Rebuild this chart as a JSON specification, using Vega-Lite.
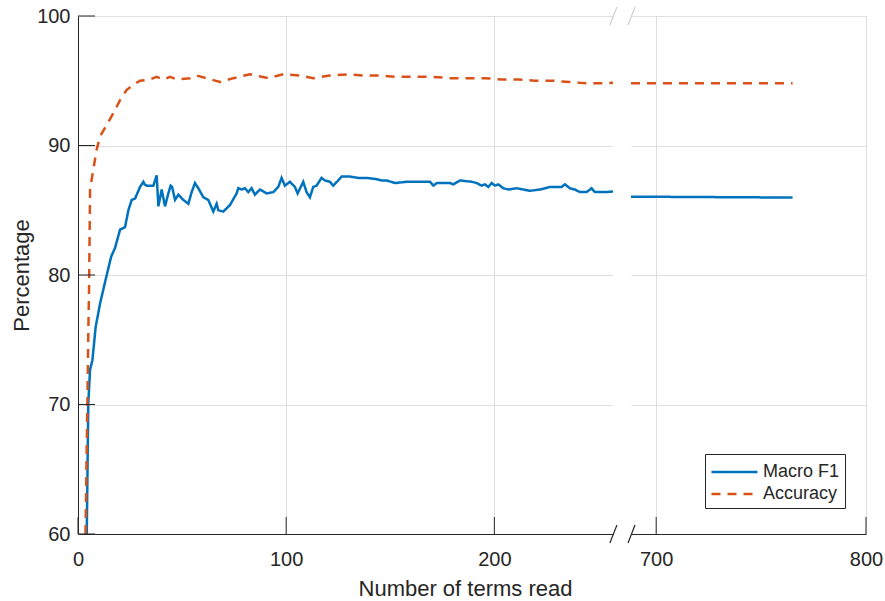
{
  "$schema": "https://vega.github.io/schema/vega-lite/v6.json",
  "padding": {"left": 10, "top": 6, "right": 5, "bottom": 5},
  "config": {
    "font": "Liberation Sans",
    "view": {"stroke": null},
    "axis": {
      "labelFontSize": 20,
      "labelColor": "#262626",
      "domainColor": "#262626",
      "tickColor": "#262626",
      "gridColor": "#dfdfdf",
      "titleFontSize": 22,
      "titleFontWeight": "normal",
      "titleColor": "#262626",
      "domainWidth": 1,
      "gridWidth": 1,
      "ticks": false,
      "labelFlush": false
    }
  },
  "datasets": {
    "early": [
      {"x": 4.2, "value": 60, "series": "Macro F1"},
      {"x": 4.95, "value": 70.1, "series": "Macro F1"},
      {"x": 5.8, "value": 72.7, "series": "Macro F1"},
      {"x": 6.9, "value": 73.4, "series": "Macro F1"},
      {"x": 8.5, "value": 76, "series": "Macro F1"},
      {"x": 10.6, "value": 77.8, "series": "Macro F1"},
      {"x": 13.8, "value": 80, "series": "Macro F1"},
      {"x": 15.9, "value": 81.4, "series": "Macro F1"},
      {"x": 17.8, "value": 82.1, "series": "Macro F1"},
      {"x": 20.2, "value": 83.5, "series": "Macro F1"},
      {"x": 22.6, "value": 83.7, "series": "Macro F1"},
      {"x": 24.2, "value": 85, "series": "Macro F1"},
      {"x": 25.8, "value": 85.8, "series": "Macro F1"},
      {"x": 27.4, "value": 85.9, "series": "Macro F1"},
      {"x": 29.8, "value": 86.8, "series": "Macro F1"},
      {"x": 31.4, "value": 87.2, "series": "Macro F1"},
      {"x": 32, "value": 87, "series": "Macro F1"},
      {"x": 33, "value": 86.9, "series": "Macro F1"},
      {"x": 36.2, "value": 86.9, "series": "Macro F1"},
      {"x": 37.8, "value": 87.7, "series": "Macro F1"},
      {"x": 38.6, "value": 85.3, "series": "Macro F1"},
      {"x": 40.2, "value": 86.6, "series": "Macro F1"},
      {"x": 41.8, "value": 85.3, "series": "Macro F1"},
      {"x": 43.4, "value": 86.3, "series": "Macro F1"},
      {"x": 44.5, "value": 86.9, "series": "Macro F1"},
      {"x": 45.2, "value": 86.8, "series": "Macro F1"},
      {"x": 46.6, "value": 85.8, "series": "Macro F1"},
      {"x": 48.2, "value": 86.2, "series": "Macro F1"},
      {"x": 50.6, "value": 85.8, "series": "Macro F1"},
      {"x": 53, "value": 85.5, "series": "Macro F1"},
      {"x": 54.6, "value": 86.4, "series": "Macro F1"},
      {"x": 56.2, "value": 87.1, "series": "Macro F1"},
      {"x": 57.8, "value": 86.7, "series": "Macro F1"},
      {"x": 60.2, "value": 86, "series": "Macro F1"},
      {"x": 62.6, "value": 85.8, "series": "Macro F1"},
      {"x": 65, "value": 84.9, "series": "Macro F1"},
      {"x": 66.6, "value": 85.5, "series": "Macro F1"},
      {"x": 67.4, "value": 85, "series": "Macro F1"},
      {"x": 69.8, "value": 84.9, "series": "Macro F1"},
      {"x": 73, "value": 85.4, "series": "Macro F1"},
      {"x": 76.2, "value": 86.3, "series": "Macro F1"},
      {"x": 77, "value": 86.7, "series": "Macro F1"},
      {"x": 78.6, "value": 86.6, "series": "Macro F1"},
      {"x": 80.2, "value": 86.7, "series": "Macro F1"},
      {"x": 81.8, "value": 86.4, "series": "Macro F1"},
      {"x": 83.4, "value": 86.7, "series": "Macro F1"},
      {"x": 85, "value": 86.2, "series": "Macro F1"},
      {"x": 87.4, "value": 86.6, "series": "Macro F1"},
      {"x": 90.6, "value": 86.3, "series": "Macro F1"},
      {"x": 93.8, "value": 86.4, "series": "Macro F1"},
      {"x": 96.2, "value": 86.8, "series": "Macro F1"},
      {"x": 97.8, "value": 87.5, "series": "Macro F1"},
      {"x": 99.4, "value": 86.9, "series": "Macro F1"},
      {"x": 101.8, "value": 87.2, "series": "Macro F1"},
      {"x": 104.2, "value": 86.8, "series": "Macro F1"},
      {"x": 105.5, "value": 86.3, "series": "Macro F1"},
      {"x": 108.2, "value": 87.2, "series": "Macro F1"},
      {"x": 109.8, "value": 86.4, "series": "Macro F1"},
      {"x": 111.4, "value": 86, "series": "Macro F1"},
      {"x": 113, "value": 86.8, "series": "Macro F1"},
      {"x": 114.6, "value": 86.9, "series": "Macro F1"},
      {"x": 117, "value": 87.5, "series": "Macro F1"},
      {"x": 118.6, "value": 87.3, "series": "Macro F1"},
      {"x": 121, "value": 87.2, "series": "Macro F1"},
      {"x": 122.6, "value": 86.9, "series": "Macro F1"},
      {"x": 125, "value": 87.3, "series": "Macro F1"},
      {"x": 126.6, "value": 87.6, "series": "Macro F1"},
      {"x": 130.6, "value": 87.6, "series": "Macro F1"},
      {"x": 134.6, "value": 87.5, "series": "Macro F1"},
      {"x": 138.7, "value": 87.5, "series": "Macro F1"},
      {"x": 143.5, "value": 87.4, "series": "Macro F1"},
      {"x": 145.9, "value": 87.3, "series": "Macro F1"},
      {"x": 148.3, "value": 87.3, "series": "Macro F1"},
      {"x": 152.3, "value": 87.1, "series": "Macro F1"},
      {"x": 157.9, "value": 87.2, "series": "Macro F1"},
      {"x": 164.3, "value": 87.2, "series": "Macro F1"},
      {"x": 169.1, "value": 87.2, "series": "Macro F1"},
      {"x": 170.7, "value": 86.9, "series": "Macro F1"},
      {"x": 172.3, "value": 87.1, "series": "Macro F1"},
      {"x": 178.7, "value": 87.1, "series": "Macro F1"},
      {"x": 180.3, "value": 87, "series": "Macro F1"},
      {"x": 183.5, "value": 87.3, "series": "Macro F1"},
      {"x": 189.1, "value": 87.2, "series": "Macro F1"},
      {"x": 191.5, "value": 87.1, "series": "Macro F1"},
      {"x": 193.9, "value": 86.9, "series": "Macro F1"},
      {"x": 195.5, "value": 87, "series": "Macro F1"},
      {"x": 197.1, "value": 86.8, "series": "Macro F1"},
      {"x": 198.7, "value": 87.1, "series": "Macro F1"},
      {"x": 200.3, "value": 86.9, "series": "Macro F1"},
      {"x": 201.9, "value": 87, "series": "Macro F1"},
      {"x": 204.3, "value": 86.7, "series": "Macro F1"},
      {"x": 206.7, "value": 86.6, "series": "Macro F1"},
      {"x": 210.7, "value": 86.7, "series": "Macro F1"},
      {"x": 213.9, "value": 86.6, "series": "Macro F1"},
      {"x": 217.1, "value": 86.5, "series": "Macro F1"},
      {"x": 221.9, "value": 86.6, "series": "Macro F1"},
      {"x": 224.3, "value": 86.7, "series": "Macro F1"},
      {"x": 226.7, "value": 86.8, "series": "Macro F1"},
      {"x": 232.3, "value": 86.8, "series": "Macro F1"},
      {"x": 233.9, "value": 87, "series": "Macro F1"},
      {"x": 236.3, "value": 86.7, "series": "Macro F1"},
      {"x": 238.7, "value": 86.6, "series": "Macro F1"},
      {"x": 241.1, "value": 86.4, "series": "Macro F1"},
      {"x": 244.3, "value": 86.4, "series": "Macro F1"},
      {"x": 246.7, "value": 86.7, "series": "Macro F1"},
      {"x": 248.3, "value": 86.4, "series": "Macro F1"},
      {"x": 253.1, "value": 86.4, "series": "Macro F1"},
      {"x": 257, "value": 86.45, "series": "Macro F1"},
      {"x": 3.6, "value": 60, "series": "Accuracy"},
      {"x": 4.5, "value": 70.1, "series": "Accuracy"},
      {"x": 5.0, "value": 76, "series": "Accuracy"},
      {"x": 5.3, "value": 78.8, "series": "Accuracy"},
      {"x": 5.8, "value": 86.6, "series": "Accuracy"},
      {"x": 7.3, "value": 88.1, "series": "Accuracy"},
      {"x": 9, "value": 89.7, "series": "Accuracy"},
      {"x": 10.6, "value": 90.7, "series": "Accuracy"},
      {"x": 13.8, "value": 91.6, "series": "Accuracy"},
      {"x": 17, "value": 92.5, "series": "Accuracy"},
      {"x": 20.2, "value": 93.5, "series": "Accuracy"},
      {"x": 23.4, "value": 94.3, "series": "Accuracy"},
      {"x": 26.6, "value": 94.7, "series": "Accuracy"},
      {"x": 29.8, "value": 95, "series": "Accuracy"},
      {"x": 34.6, "value": 95.1, "series": "Accuracy"},
      {"x": 37.8, "value": 95.3, "series": "Accuracy"},
      {"x": 41, "value": 95.1, "series": "Accuracy"},
      {"x": 44.2, "value": 95.3, "series": "Accuracy"},
      {"x": 47.4, "value": 95.1, "series": "Accuracy"},
      {"x": 53.8, "value": 95.2, "series": "Accuracy"},
      {"x": 57, "value": 95.4, "series": "Accuracy"},
      {"x": 61.8, "value": 95.2, "series": "Accuracy"},
      {"x": 68.2, "value": 94.9, "series": "Accuracy"},
      {"x": 74.6, "value": 95.2, "series": "Accuracy"},
      {"x": 82.6, "value": 95.5, "series": "Accuracy"},
      {"x": 91.4, "value": 95.2, "series": "Accuracy"},
      {"x": 98.6, "value": 95.5, "series": "Accuracy"},
      {"x": 106.6, "value": 95.4, "series": "Accuracy"},
      {"x": 113, "value": 95.2, "series": "Accuracy"},
      {"x": 121, "value": 95.4, "series": "Accuracy"},
      {"x": 129.8, "value": 95.5, "series": "Accuracy"},
      {"x": 137.8, "value": 95.4, "series": "Accuracy"},
      {"x": 145, "value": 95.4, "series": "Accuracy"},
      {"x": 153, "value": 95.3, "series": "Accuracy"},
      {"x": 161.9, "value": 95.3, "series": "Accuracy"},
      {"x": 170.7, "value": 95.3, "series": "Accuracy"},
      {"x": 178.7, "value": 95.2, "series": "Accuracy"},
      {"x": 187.5, "value": 95.2, "series": "Accuracy"},
      {"x": 195.5, "value": 95.2, "series": "Accuracy"},
      {"x": 203.5, "value": 95.1, "series": "Accuracy"},
      {"x": 211.5, "value": 95.1, "series": "Accuracy"},
      {"x": 219.5, "value": 95, "series": "Accuracy"},
      {"x": 228.3, "value": 95, "series": "Accuracy"},
      {"x": 236.3, "value": 94.9, "series": "Accuracy"},
      {"x": 244.3, "value": 94.8, "series": "Accuracy"},
      {"x": 253.1, "value": 94.8, "series": "Accuracy"},
      {"x": 257, "value": 94.85, "series": "Accuracy"}
    ],
    "late": [
      {"x": 688, "value": 86.05, "series": "Macro F1"},
      {"x": 765, "value": 85.98, "series": "Macro F1"},
      {"x": 688, "value": 94.8, "series": "Accuracy"},
      {"x": 765, "value": 94.8, "series": "Accuracy"}
    ],
    "earlyXTicks": [{"t": 0}, {"t": 100}, {"t": 200}],
    "lateXTicks": [{"t": 700}, {"t": 800}],
    "yTicks": [{"t": 60}, {"t": 70}, {"t": 80}, {"t": 90}, {"t": 100}],
    "one": [{"k": 1}]
  },
  "spacing": 18,
  "bounds": "flush",
  "hconcat": [
    {
      "width": 535,
      "height": 518,
      "layer": [
        {
          "data": {"name": "early"},
          "mark": {"type": "line", "strokeWidth": 2.5, "clip": true},
          "encoding": {
            "x": {
              "field": "x", "type": "quantitative",
              "scale": {"domain": [0, 257], "nice": false, "zero": false},
              "axis": {
                "values": [0, 100, 200], "grid": true, "labelPadding": 15,
                "title": "Number of terms read", "titleX": 387, "titleY": 61,
                "titleAlign": "center", "titleBaseline": "alphabetic", "titleAnchor": "start"
              }
            },
            "y": {
              "field": "value", "type": "quantitative",
              "scale": {"domain": [60, 100], "nice": false, "zero": false},
              "axis": {
                "values": [60, 70, 80, 90, 100], "grid": true, "labelPadding": 8,
                "title": "Percentage", "titleX": -49.5, "titleY": 259, "titleAngle": 270,
                "titleAlign": "center", "titleBaseline": "alphabetic", "titleAnchor": "start"
              }
            },
            "color": {
              "field": "series", "type": "nominal",
              "scale": {"domain": ["Macro F1", "Accuracy"], "range": ["#0072BD", "#D95319"]},
              "legend": null
            },
            "strokeDash": {
              "field": "series", "type": "nominal",
              "scale": {"domain": ["Macro F1", "Accuracy"], "range": [[1, 0], [9, 7]]},
              "legend": null
            }
          }
        },
        {
          "data": {"name": "earlyXTicks"},
          "mark": {"type": "rule", "color": "#262626", "strokeWidth": 1},
          "encoding": {"x": {"field": "t", "type": "quantitative"}, "y": {"datum": 60}, "y2": {"datum": 61.31}}
        },
        {
          "data": {"name": "yTicks"},
          "mark": {"type": "rule", "color": "#262626", "strokeWidth": 1},
          "encoding": {"y": {"field": "t", "type": "quantitative"}, "x": {"datum": 0}, "x2": {"datum": 8.17}}
        },
        {
          "data": {"name": "one"},
          "mark": {"type": "rule", "color": "#262626", "strokeWidth": 1.2},
          "encoding": {"x": {"datum": 255.5}, "x2": {"datum": 258.9}, "y": {"datum": 59.3}, "y2": {"datum": 60.7}}
        },
        {
          "data": {"name": "one"},
          "mark": {"type": "rule", "color": "#cfcfcf", "strokeWidth": 1.2},
          "encoding": {"x": {"datum": 255.5}, "x2": {"datum": 258.9}, "y": {"datum": 99.3}, "y2": {"datum": 100.7}}
        }
      ]
    },
    {
      "width": 235,
      "height": 518,
      "layer": [
        {
          "data": {"name": "late"},
          "mark": {"type": "line", "strokeWidth": 2.5, "clip": true},
          "encoding": {
            "x": {
              "field": "x", "type": "quantitative",
              "scale": {"domain": [688, 800], "nice": false, "zero": false},
              "axis": {"values": [700, 800], "grid": true, "labelPadding": 15, "title": null}
            },
            "y": {
              "field": "value", "type": "quantitative",
              "scale": {"domain": [60, 100], "nice": false, "zero": false},
              "axis": {"values": [60, 70, 80, 90, 100], "grid": true, "labels": false, "domain": false, "title": null}
            },
            "color": {
              "field": "series", "type": "nominal",
              "scale": {"domain": ["Macro F1", "Accuracy"], "range": ["#0072BD", "#D95319"]},
              "legend": {
                "orient": "none", "legendX": 74, "legendY": 438, "title": null,
                "symbolType": "M-1,0H3", "symbolSize": 529, "symbolStrokeWidth": 2.5,
                "labelFontSize": 18, "labelColor": "#262626", "strokeColor": "#262626",
                "fillColor": "white", "padding": 5, "labelOffset": 27, "rowPadding": 0
              }
            },
            "strokeDash": {
              "field": "series", "type": "nominal",
              "scale": {"domain": ["Macro F1", "Accuracy"], "range": [[1, 0], [9, 7]]},
              "legend": {
                "orient": "none", "legendX": 74, "legendY": 438, "title": null,
                "symbolType": "M-1,0H3", "symbolSize": 529, "symbolStrokeWidth": 2.5,
                "labelFontSize": 18, "labelColor": "#262626", "strokeColor": "#262626",
                "fillColor": "white", "padding": 5, "labelOffset": 27, "rowPadding": 0
              }
            }
          }
        },
        {
          "data": {"name": "lateXTicks"},
          "mark": {"type": "rule", "color": "#262626", "strokeWidth": 1},
          "encoding": {"x": {"field": "t", "type": "quantitative"}, "y": {"datum": 60}, "y2": {"datum": 61.31}}
        },
        {
          "data": {"name": "one"},
          "mark": {"type": "rule", "color": "#262626", "strokeWidth": 1.2},
          "encoding": {"x": {"datum": 686.6}, "x2": {"datum": 689.9}, "y": {"datum": 59.3}, "y2": {"datum": 60.7}}
        },
        {
          "data": {"name": "one"},
          "mark": {"type": "rule", "color": "#cfcfcf", "strokeWidth": 1.2},
          "encoding": {"x": {"datum": 686.6}, "x2": {"datum": 689.9}, "y": {"datum": 99.3}, "y2": {"datum": 100.7}}
        }
      ]
    }
  ],
  "resolve": {
    "scale": {"x": "independent", "y": "independent", "color": "independent", "strokeDash": "independent"},
    "legend": {"color": "independent", "strokeDash": "independent"}
  }
}
